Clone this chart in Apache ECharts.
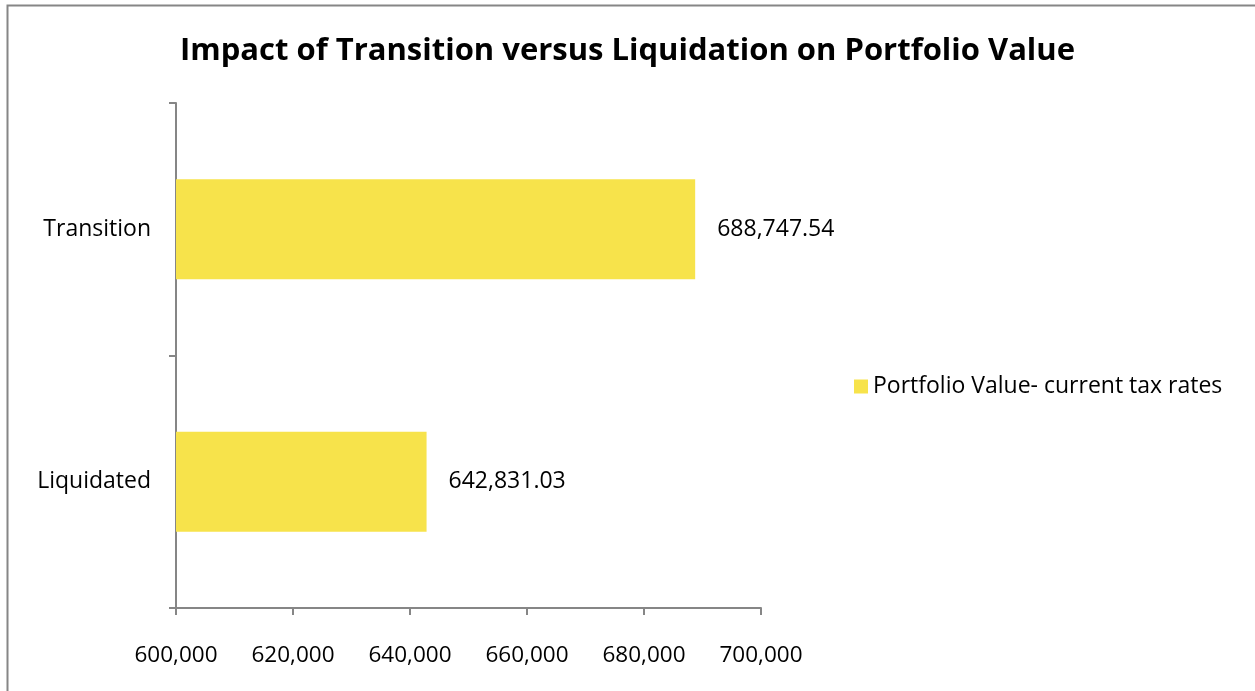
<!DOCTYPE html>
<html><head><meta charset="utf-8">
<script src="https://cdn.jsdelivr.net/npm/echarts@6/dist/echarts.min.js"></script>
<style>html,body{margin:0;padding:0;background:#fff}#c{width:1255px;height:691px}</style>
</head><body><div id="c"></div>
<script>
const titleText = 'Impact of Transition versus Liquidation on Portfolio Value';
const categories = ['Liquidated', 'Transition'];
const seriesName = 'Portfolio Value- current tax rates';
const values = [642831.03, 688747.54];
const xMin = 600000, xMax = 700000, xStep = 20000;

const FONT = '"Open Sans", sans-serif';
const chart = echarts.init(document.getElementById('c'), null, {renderer: 'canvas'});
const fmtInt = v => v.toLocaleString('en-US');
const fmtDec = v => v.toLocaleString('en-US', {minimumFractionDigits: 2, maximumFractionDigits: 2});
chart.setOption({
  animation: false,
  backgroundColor: '#fff',
  graphic: [{type: 'rect', shape: {x: 7.5, y: 5.5, width: 1300, height: 800}, style: {fill: 'none', stroke: '#868686', lineWidth: 2}, silent: true}],
  title: {text: titleText, left: 'center', top: 31, textStyle: {fontFamily: FONT, fontSize: 31, fontWeight: 'bold', color: '#000'}},
  legend: {data: [seriesName], left: 854, top: 375, padding: 0, orient: 'vertical', icon: 'rect', itemWidth: 14, itemHeight: 14, itemGap: 8,
    textStyle: {fontFamily: FONT, fontSize: 23, color: '#000'}},
  grid: {left: 176, right: 494, top: 103, bottom: 83, containLabel: false},
  xAxis: {type: 'value', min: xMin, max: xMax, interval: xStep,
    axisLine: {show: true, lineStyle: {color: '#868686', width: 2}},
    axisTick: {show: true, length: 7, lineStyle: {color: '#868686', width: 2}},
    splitLine: {show: false},
    axisLabel: {formatter: fmtInt, fontFamily: FONT, fontSize: 22.5, color: '#000', margin: 36}},
  yAxis: {type: 'category', data: categories,
    axisLine: {show: true, lineStyle: {color: '#868686', width: 2}},
    axisTick: {show: true, length: 7, lineStyle: {color: '#868686', width: 2}},
    axisLabel: {fontFamily: FONT, fontSize: 23, color: '#000', margin: 25}},
  series: [{name: seriesName, type: 'bar', data: values, barWidth: 100, itemStyle: {color: '#F7E34B'},
    label: {show: true, position: 'right', distance: 22, formatter: p => fmtDec(p.value), fontFamily: FONT, fontSize: 23, color: '#000'}}]
});
</script></body></html>
